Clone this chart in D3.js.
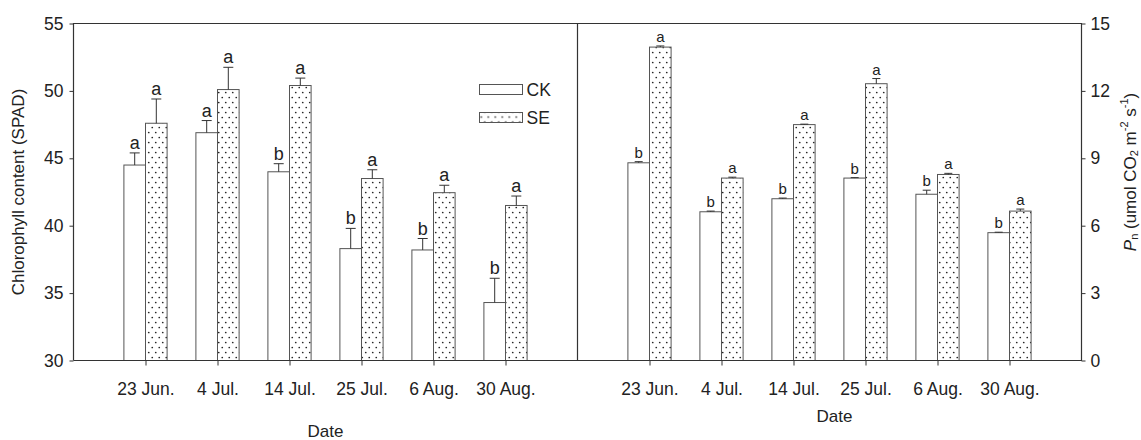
<!DOCTYPE html>
<html>
<head>
<meta charset="utf-8">
<script src="https://cdn.jsdelivr.net/npm/d3@7"></script>
<style>
  body { margin: 0; background: #fff; }
  svg text { font-family: "Liberation Sans", Arial, sans-serif; fill: #222; }
</style>
</head>
<body>
<svg id="chart" width="1141" height="440"></svg>
<script>
// data
const dates = ["23 Jun.", "4 Jul.", "14 Jul.", "25 Jul.", "6 Aug.", "30 Aug."];

const chlCK = [44.5, 46.9, 44.0, 38.3, 38.2, 34.3];
const chlCKErr = [0.9, 0.9, 0.6, 1.5, 0.85, 1.8];
const chlSE = [47.6, 50.1, 50.4, 43.5, 42.45, 41.5];
const chlSEErr = [1.8, 1.65, 0.55, 0.65, 0.55, 0.7];
const chlCKSig = ["a", "a", "b", "b", "b", "b"];
const chlSESig = ["a", "a", "a", "a", "a", "a"];

const pnCK = [8.8, 6.62, 7.2, 8.12, 7.4, 5.69];
const pnCKErr = [0.05, 0.03, 0.03, 0.02, 0.18, 0.02];
const pnSE = [13.95, 8.12, 10.5, 12.32, 8.28, 6.65];
const pnSEErr = [0.05, 0.04, 0.02, 0.23, 0.05, 0.09];
const pnCKSig = ["b", "b", "b", "b", "b", "b"];
const pnSESig = ["a", "a", "a", "a", "a", "a"];

const chlTicks = [30, 35, 40, 45, 50, 55];
const pnTicks = [0, 3, 6, 9, 12, 15];

// layout
const plotTop = 23.5, plotBottom = 360.5;
const leftX0 = 73.5, midX = 577.5, rightX1 = 1081.5;
const lineColor = "#333";
const barStroke = "#555";
const fontSize = "17.5px";

const svg = d3.select("#chart");

// dotted fill for SE bars
const defs = svg.append("defs");
const pat = defs.append("pattern")
  .attr("id", "dots")
  .attr("patternUnits", "userSpaceOnUse")
  .attr("width", 7)
  .attr("height", 10);
pat.append("rect").attr("width", 7).attr("height", 10).attr("fill", "#fff");
pat.append("circle").attr("cx", 1.75).attr("cy", 2.5).attr("r", 0.85).attr("fill", "#222");
pat.append("circle").attr("cx", 5.25).attr("cy", 7.5).attr("r", 0.85).attr("fill", "#222");

const xL = d3.scalePoint().domain(dates).range([leftX0, midX]).padding(1);
const xR = d3.scalePoint().domain(dates).range([midX, rightX1]).padding(1);
const yL = d3.scaleLinear().domain([30, 55]).range([plotBottom, plotTop]);
const yR = d3.scaleLinear().domain([0, 15]).range([plotBottom, plotTop]);

function drawPanel(x, y, ck, ckErr, se, seErr, ckSig, seSig, capW, sigSize) {
  const bw = x.step() * 0.3;
  const g = svg.append("g");
  const series = [
    { vals: ck, err: ckErr, sig: ckSig, off: -bw, fill: "#fff" },
    { vals: se, err: seErr, sig: seSig, off: 0, fill: "url(#dots)" }
  ];
  series.forEach((s) => {
    const rows = dates.map((d, i) => ({ d, v: s.vals[i], e: s.err[i], sig: s.sig[i] }));
    g.selectAll(null)
      .data(rows)
      .join("rect")
      .attr("x", (r) => x(r.d) + s.off)
      .attr("y", (r) => y(r.v))
      .attr("width", bw)
      .attr("height", (r) => y.range()[0] - y(r.v))
      .attr("fill", s.fill)
      .attr("stroke", barStroke)
      .attr("stroke-width", 1);

    const cx = (r) => x(r.d) + s.off + bw / 2;
    // error bars (upper only)
    g.selectAll(null)
      .data(rows)
      .join("line")
      .attr("x1", cx).attr("x2", cx)
      .attr("y1", (r) => y(r.v))
      .attr("y2", (r) => y(r.v + r.e))
      .attr("stroke", lineColor);
    g.selectAll(null)
      .data(rows)
      .join("line")
      .attr("x1", (r) => cx(r) - capW / 2)
      .attr("x2", (r) => cx(r) + capW / 2)
      .attr("y1", (r) => y(r.v + r.e))
      .attr("y2", (r) => y(r.v + r.e))
      .attr("stroke", lineColor);

    g.selectAll(null)
      .data(rows)
      .join("text")
      .attr("x", cx)
      .attr("y", (r) => y(r.v + r.e) - 4)
      .attr("text-anchor", "middle")
      .style("font-size", sigSize + "px")
      .text((r) => r.sig);
  });

  // x axis
  const xa = svg.append("g")
    .attr("transform", `translate(0,${plotBottom})`)
    .call(d3.axisBottom(x).tickSize(5).tickSizeOuter(0).tickPadding(17));
  xa.select(".domain").remove();
  xa.selectAll("line").attr("stroke", lineColor);
  xa.selectAll("text").style("font-size", fontSize).attr("fill", "#222");
}

drawPanel(xL, yL, chlCK, chlCKErr, chlSE, chlSEErr, chlCKSig, chlSESig, 10, 18);
drawPanel(xR, yR, pnCK, pnCKErr, pnSE, pnSEErr, pnCKSig, pnSESig, 8, 15);

// y axes
const ya = svg.append("g")
  .attr("transform", `translate(${leftX0},0)`)
  .call(d3.axisLeft(yL).tickValues(chlTicks).tickSize(4).tickSizeOuter(0).tickPadding(6));
ya.select(".domain").remove();
ya.selectAll("line").attr("stroke", lineColor);
ya.selectAll("text").style("font-size", fontSize).attr("fill", "#222");

const yb = svg.append("g")
  .attr("transform", `translate(${rightX1},0)`)
  .call(d3.axisRight(yR).tickValues(pnTicks).tickSize(4).tickSizeOuter(0).tickPadding(5));
yb.select(".domain").remove();
yb.selectAll("line").attr("stroke", lineColor);
yb.selectAll("text").style("font-size", fontSize).attr("fill", "#222");

// frame: top, bottom, left, divider, right
const frame = svg.append("g").attr("stroke", lineColor).attr("stroke-width", 1.2).attr("fill", "none");
frame.append("path").attr("d", `M${leftX0},${plotBottom}V${plotTop}H${rightX1}V${plotBottom}H${leftX0}`);
frame.append("line").attr("x1", midX).attr("x2", midX).attr("y1", plotTop).attr("y2", plotBottom);

// axis titles
svg.append("text")
  .attr("transform", `translate(18,${(plotTop + plotBottom) / 2}) rotate(-90)`)
  .attr("text-anchor", "middle")
  .attr("dominant-baseline", "central")
  .style("font-size", "17px")
  .text("Chlorophyll content (SPAD)");

svg.append("text")
  .attr("x", (leftX0 + midX) / 2)
  .attr("y", 437)
  .attr("text-anchor", "middle")
  .style("font-size", "17px")
  .text("Date");

svg.append("text")
  .attr("x", (midX + rightX1) / 2 + 5)
  .attr("y", 422)
  .attr("text-anchor", "middle")
  .style("font-size", "17px")
  .text("Date");

const pt = svg.append("text")
  .attr("transform", `translate(1130,172) rotate(-90)`)
  .attr("text-anchor", "middle")
  .attr("dominant-baseline", "central")
  .style("font-size", "17px");
pt.append("tspan").style("font-style", "italic").text("P");
pt.append("tspan").attr("dy", 4).style("font-size", "11px").text("n");
pt.append("tspan").attr("dy", -4).text(" (umol CO");
pt.append("tspan").attr("dy", 4).style("font-size", "11px").text("2");
pt.append("tspan").attr("dy", -4).text(" m");
pt.append("tspan").attr("dy", -6).style("font-size", "11px").text("-2");
pt.append("tspan").attr("dy", 6).text(" s");
pt.append("tspan").attr("dy", -6).style("font-size", "11px").text("-1");
pt.append("tspan").attr("dy", 6).text(")");

// legend
const legendItems = [
  { name: "CK", fill: "#fff" },
  { name: "SE", fill: "url(#dots)" }
];
const lg = svg.append("g").attr("transform", "translate(479.5,84.5)");
lg.selectAll("rect")
  .data(legendItems)
  .join("rect")
  .attr("x", 0)
  .attr("y", (d, i) => i * 28)
  .attr("width", 43)
  .attr("height", 10)
  .attr("fill", (d) => d.fill)
  .attr("stroke", barStroke);
lg.selectAll("text")
  .data(legendItems)
  .join("text")
  .attr("x", 47)
  .attr("y", (d, i) => i * 28 + 5)
  .attr("dominant-baseline", "central")
  .style("font-size", fontSize)
  .text((d) => d.name);
</script>
</body>
</html>
